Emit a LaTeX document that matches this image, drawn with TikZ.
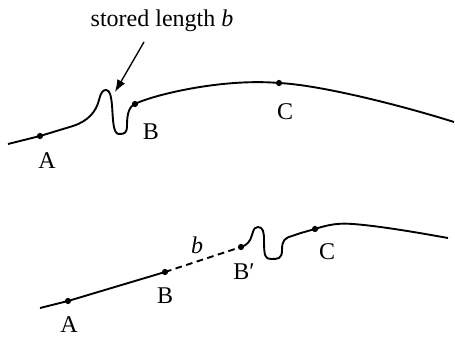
\documentclass[tikz,border=0pt]{standalone}
\usepackage{fontspec}
\setmainfont{Liberation Serif}
\usetikzlibrary{arrows.meta,positioning,calc}

\begin{document}
\begin{tikzpicture}[
   x=0.45pt, y=-0.45pt, font=\fontsize{10.8}{13}\selectfont,
   curva/.style={line width=0.85pt,line join=round},
   punto/.style={circle,fill,inner sep=0pt,minimum size=2.8pt},
   lbl/.style={inner sep=1pt},
   arr/.style={-{Latex[length=5.5pt,width=4pt]},line width=0.6pt}]
  \useasboundingbox (0,0) rectangle (455,337);
  % top: the slack is stored in a fold between A and B
  \node[punto] (a1) at (40,136) {};
  \node[punto] (b1) at (135,104) {};
  \node[punto] (c1) at (279,83) {};
  \coordinate (s1) at (8,144);
  \coordinate (e1) at (454,122);
  \coordinate (tip) at (115,92);
  \coordinate (tail) at (144,42);
  \draw[curva] (s1) -- (a1.center) -- (73,126)
     .. controls (88,121) and (96,112) .. (99,100)
     .. controls (101,92) and (103,90) .. (106,90)
     .. controls (110,90) and (111,96) .. (112,105)
     .. controls (113,120) and (113,134) .. (119,134)
     .. controls (125,134) and (127,133) .. (127,125)
     .. controls (127,112) and (130,106) .. (b1.center)
     .. controls (150,96) and (220,78) .. (c1.center)
     .. controls (320,85) and (400,105) .. (e1);
  \node[lbl] (la1) at (47,161) {A};
  \node[lbl] (lb1) at (151,132) {B};
  \node[lbl] (lc1) at (285,112) {C};
  \node[lbl] (stored) at (162,21) {stored length \textit{b}};
  \draw[arr] (tail) -- (tip);
  % bottom: the fold has moved on, B' lies a length b past B
  \node[punto] (a2) at (68,301) {};
  \node[punto] (b2) at (165,272) {};
  \node[punto] (bp2) at (241,247) {};
  \node[punto] (c2) at (315,229) {};
  \coordinate (s2) at (40,308);
  \coordinate (e2) at (448,238);
  \draw[curva] (s2) -- (a2.center) -- (b2.center);
  \draw[curva,dash pattern=on 3pt off 2pt] (b2.center) -- (bp2.center);
  \draw[curva] (bp2.center)
     .. controls (247,245) and (250,242) .. (252,235)
     .. controls (254,228) and (255,227) .. (258,227)
     .. controls (263,227) and (264,232) .. (264,240)
     .. controls (264,256) and (265,259) .. (271,259)
     .. controls (278,259) and (282,259) .. (282,250)
     .. controls (282,240) and (285,238) .. (292,236)
     .. controls (300,233) and (308,231) .. (c2.center)
     .. controls (330,224) and (340,223) .. (353,224)
     .. controls (380,226) and (420,233) .. (e2);
  \node[lbl] (la2) at (69,325) {A};
  \node[lbl] (lb2) at (165,296) {B};
  \node[lbl] (lbp2) at (244,272) {B′};
  \node[lbl] (lc2) at (327,252) {C};
  \node[lbl] (lbb) at (197,245) {\textit{b}};
\end{tikzpicture}
\end{document}
